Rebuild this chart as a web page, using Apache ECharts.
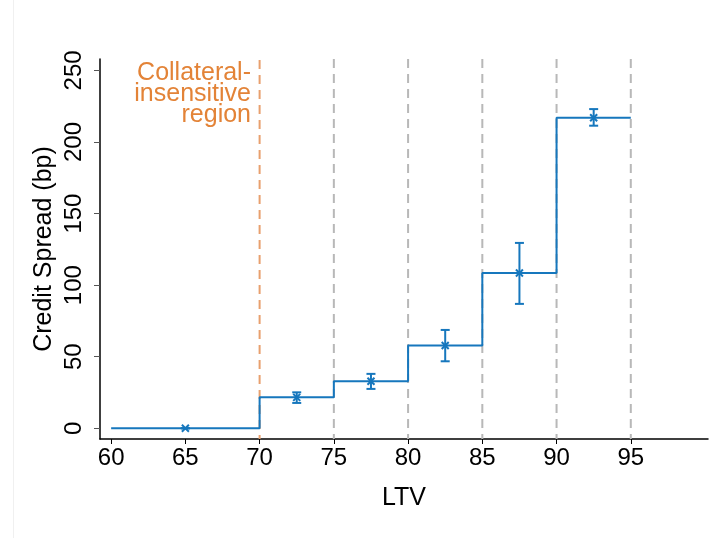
<!DOCTYPE html>
<html>
<head>
<meta charset="utf-8">
<script src="https://cdn.jsdelivr.net/npm/echarts@6/dist/echarts.min.js"></script>
<style>
    html, body { margin: 0; padding: 0; background: #fff; }
    #main { width: 710px; height: 538px; }
</style>
</head>
<body>
<div id="main"></div>
<script>
// step edges and levels (bp)
var edges = [60, 70, 75, 80, 85, 90, 95];
var levels = [0, 21.6, 32.8, 57.8, 108.5, 217];
// point estimates with error bars
var mids = [65, 72.5, 77.5, 82.5, 87.5, 92.5];
var means = [0, 21.6, 32.8, 57.8, 108.5, 217];
var lower = [0, 17.7, 27.5, 46.8, 86.9, 211.4];
var upper = [0, 25.1, 38, 68.7, 129.5, 223];
// dashed reference lines
var refLines = [70, 75, 80, 85, 90, 95];
var xTicks = [60, 65, 70, 75, 80, 85, 90, 95];
var yTicks = [0, 50, 100, 150, 200, 250];

var blue = '#1677bd';
var orange = '#e38337';
var font = 'Liberation Sans, Arial, sans-serif';

var stepData = [];
for (var i = 0; i < edges.length; i++) {
    var v = i < levels.length ? levels[i] : levels[levels.length - 1];
    stepData.push([edges[i], v]);
}
var barData = [];
for (var i = 0; i < mids.length; i++) {
    barData.push([mids[i], means[i], lower[i], upper[i]]);
}

var myChart = echarts.init(document.getElementById('main'));
var option = {
    backgroundColor: '#fff',
    animation: false,
    grid: { left: 100, right: 2, top: 59, bottom: 99 },
    xAxis: {
        type: 'value',
        min: 59.25,
        max: 100.2,
        name: 'LTV',
        nameLocation: 'middle',
        nameGap: 47,
        nameTextStyle: { fontSize: 25, color: '#000', fontFamily: font },
        axisLine: { onZero: false, lineStyle: { color: '#000', width: 1.5 } },
        axisTick: { show: true, length: 5, customValues: xTicks, lineStyle: { color: '#000', width: 1 } },
        axisLabel: { customValues: xTicks, fontSize: 24, color: '#000', fontFamily: font, margin: 7 },
        splitLine: { show: false }
    },
    yAxis: {
        type: 'value',
        min: -7.5,
        max: 258,
        name: 'Credit Spread (bp)',
        nameLocation: 'middle',
        nameGap: 43,
        nameMoveOverlap: false,
        nameTextStyle: { fontSize: 25, color: '#000', fontFamily: font },
        axisLine: { show: true, onZero: false, lineStyle: { color: '#000', width: 1.5 } },
        axisTick: { show: true, length: 6, customValues: yTicks, lineStyle: { color: '#555', width: 1 } },
        axisLabel: { customValues: yTicks, rotate: 90, fontSize: 24, color: '#000', fontFamily: font, margin: 14 },
        splitLine: { show: false }
    },
    graphic: [
        {
            type: 'line',
            shape: { x1: 13.5, y1: 0, x2: 13.5, y2: 538 },
            style: { stroke: '#f0f0f0', lineWidth: 1 }
        },
        {
            type: 'text',
            x: 251,
            y: 63,
            style: {
                text: 'Collateral-\ninsensitive\nregion',
                align: 'right',
                verticalAlign: 'top',
                fontSize: 25,
                lineHeight: 21,
                fill: orange,
                fontFamily: font
            }
        }
    ],
    series: [
        {
            // vertical dashed lines
            type: 'custom',
            z: 1,
            data: refLines,
            renderItem: function (params, api) {
                var x = api.coord([api.value(0), 0])[0];
                var cs = params.coordSys;
                var first = api.value(0) === 70;
                return {
                    type: 'line',
                    shape: { x1: x, y1: cs.y + (first ? 1 : 0), x2: x, y2: cs.y + cs.height },
                    style: {
                        stroke: first ? '#e8a06e' : '#b8b8b8',
                        lineWidth: 2,
                        lineDash: [9, 6]
                    }
                };
            }
        },
        {
            type: 'line',
            z: 2,
            step: 'end',
            data: stepData,
            symbol: 'none',
            lineStyle: { color: blue, width: 2 }
        },
        {
            // error bars with x markers
            type: 'custom',
            z: 3,
            data: barData,
            renderItem: function (params, api) {
                var p = api.coord([api.value(0), api.value(1)]);
                var lo = api.coord([api.value(0), api.value(2)]);
                var hi = api.coord([api.value(0), api.value(3)]);
                var cap = 4.5, m = 3.5;
                var st = { stroke: blue, lineWidth: 2 };
                return {
                    type: 'group',
                    children: [
                        { type: 'line', shape: { x1: p[0], y1: lo[1], x2: p[0], y2: hi[1] }, style: st },
                        { type: 'line', shape: { x1: p[0] - cap, y1: lo[1], x2: p[0] + cap, y2: lo[1] }, style: st },
                        { type: 'line', shape: { x1: p[0] - cap, y1: hi[1], x2: p[0] + cap, y2: hi[1] }, style: st },
                        { type: 'line', shape: { x1: p[0] - m, y1: p[1] - m, x2: p[0] + m, y2: p[1] + m }, style: st },
                        { type: 'line', shape: { x1: p[0] - m, y1: p[1] + m, x2: p[0] + m, y2: p[1] - m }, style: st }
                    ]
                };
            }
        }
    ]
};
myChart.setOption(option);
</script>
</body>
</html>
